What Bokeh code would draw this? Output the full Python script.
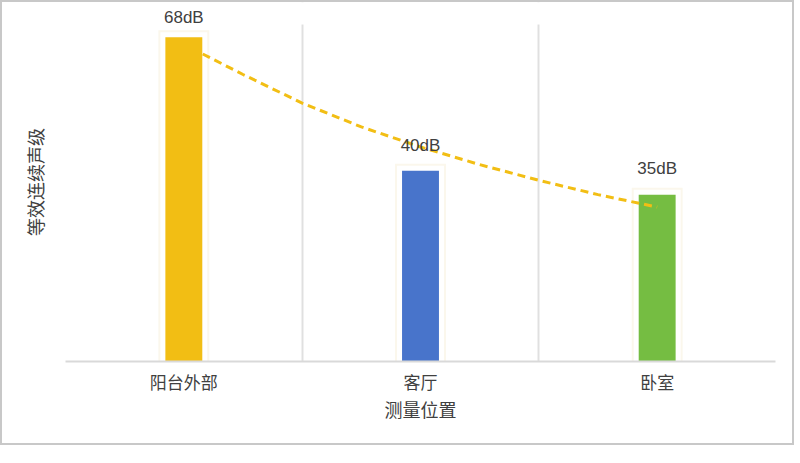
from bokeh.plotting import figure
from bokeh.models import FixedTicker, Label, ColumnDataSource, BoxAnnotation
from bokeh.embed import file_html
from bokeh.resources import INLINE

categories = ["阳台外部", "客厅", "卧室"]
values = [68, 40, 35]
bar_colors = ["#F2BE14", "#4874CB", "#75BD42"]
value_labels = ["68dB", "40dB", "35dB"]
label_offsets = [20, 25, 26]
axis_max = 70.7

# trend line (x in category units, 0.5 = first category centre)
trend_x = [0.58, 0.75, 1.0, 1.25, 1.5, 1.75, 2.0, 2.25, 2.5]
trend_y = [64.5, 60.2, 54.2, 49.2, 45.0, 41.3, 38.0, 35.0, 32.4]

xs = [i + 0.5 for i in range(len(categories))]

p = figure(width=794, height=445, x_range=(0, 3), y_range=(0, 75.3),
           output_backend="svg", toolbar_location=None,
           min_border_left=63, min_border_right=21, min_border_top=0, min_border_bottom=86)
p.styles = {"border": "2px solid #c8c8c8"}
p.outline_line_color = None
p.background_fill_color = "white"
p.border_fill_color = "white"

src = ColumnDataSource(dict(x=xs, top=values, color=bar_colors))
# halo behind bars
p.vbar(x="x", top="top", width=0.156, source=src, fill_color="white",
       line_color="#fbf7ec", line_width=14, line_join="miter")
p.vbar(x="x", top="top", width=0.156, source=src, fill_color="white",
       line_color="white", line_width=10, line_join="miter")
p.vbar(x="x", top="top", width=0.156, source=src, fill_color="color", line_color=None)

p.line(trend_x, trend_y, line_color="#F2BE14", line_width=3, line_dash="8 5")

# blank out the grid above the axis maximum
p.add_layout(BoxAnnotation(bottom=axis_max, fill_color="white", fill_alpha=1.0,
                           line_color=None, level="underlay"))

for x, v, t, off in zip(xs, values, value_labels, label_offsets):
    p.add_layout(Label(x=x, y=v, y_offset=off, text=t, text_align="center",
                       text_baseline="middle", text_font_size="17px",
                       text_color="#404040", text_font="Liberation Sans"))

# x axis
p.xaxis.ticker = FixedTicker(ticks=xs)
p.xaxis.major_label_overrides = {x: c for x, c in zip(xs, categories)}
p.xaxis.major_tick_line_color = None
p.xaxis.minor_tick_line_color = None
p.xaxis.axis_line_color = "#d9d9d9"
p.xaxis.axis_line_width = 2
p.xaxis.major_label_text_font = "Noto Sans CJK SC"
p.xaxis.major_label_text_font_size = "17px"
p.xaxis.major_label_text_color = "#404040"
p.xaxis.major_label_standoff = 1
p.xaxis.axis_label = "测量位置"
p.xaxis.axis_label_text_font = "Noto Sans CJK SC"
p.xaxis.axis_label_text_font_size = "18px"
p.xaxis.axis_label_text_font_style = "normal"
p.xaxis.axis_label_text_color = "#404040"
p.xaxis.axis_label_standoff = -1

# y axis
p.yaxis.ticker = FixedTicker(ticks=[])
p.yaxis.major_tick_line_color = None
p.yaxis.minor_tick_line_color = None
p.yaxis.axis_line_color = None
p.yaxis.axis_label = "等效连续声级"
p.yaxis.axis_label_text_font = "Noto Sans CJK SC"
p.yaxis.axis_label_text_font_size = "18px"
p.yaxis.axis_label_text_font_style = "normal"
p.yaxis.axis_label_text_color = "#404040"
p.yaxis.axis_label_standoff = 18

p.xgrid.ticker = FixedTicker(ticks=[0, 1, 2, 3])
p.xgrid.grid_line_color = "#e0e0e0"
p.xgrid.grid_line_width = 2
p.ygrid.grid_line_color = None

open("out.html", "w").write(file_html(p, INLINE))
